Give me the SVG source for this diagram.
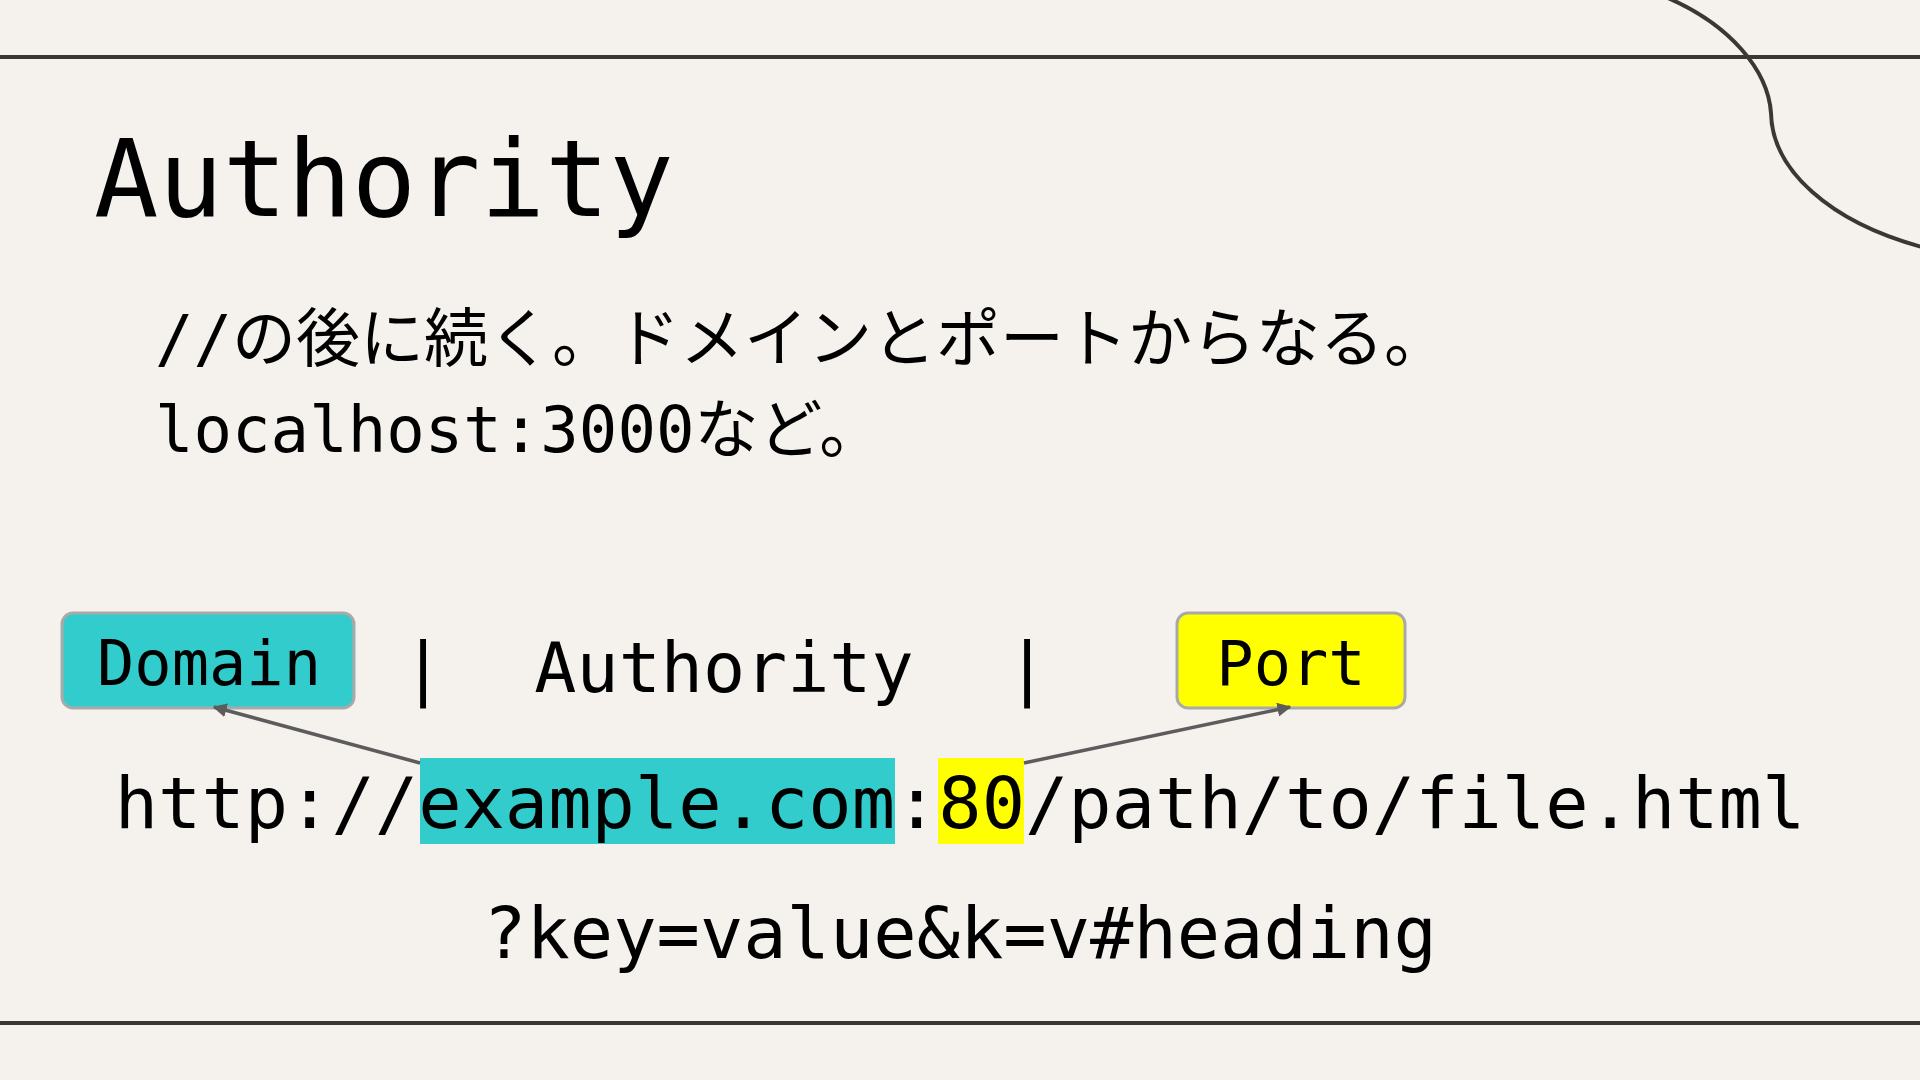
<svg xmlns="http://www.w3.org/2000/svg" width="1920" height="1080" viewBox="0 0 1920 1080">
<style>
.mono{font-family:"DejaVu Sans Mono","Noto Sans CJK JP",monospace;fill:#000}
.rule{stroke:#3b3734;stroke-width:4;fill:none}
.box{stroke:#a9a9a9;stroke-width:3}
.conn{stroke:#5c5c5c;stroke-width:3.5;fill:none;marker-end:url(#ah)}
</style>
<defs>
<marker id="ah" viewBox="0 0 10 10" refX="9" refY="5" markerWidth="4" markerHeight="4" orient="auto" markerUnits="strokeWidth">
<path d="M0,0 L10,5 L0,10 Z" fill="#5c5c5c"/>
</marker>
</defs>
<rect width="1920" height="1080" fill="#f5f2ed"/>
<g id="decor">
<line class="rule" x1="0" y1="57" x2="1920" y2="57"/>
<line class="rule" x1="0" y1="1023" x2="1920" y2="1023"/>
<path class="rule" stroke-width="3.5" d="M1668,-2 C1730,25 1768,70 1771,113 C1772,170 1830,222 1922,247"/>
</g>
<g id="title">
<text class="mono" x="94" y="216" font-size="107">Authority</text>
</g>
<g id="description">
<text class="mono" x="155" y="361" font-size="64">//の後に続く。ドメインとポートからなる。</text>
<text class="mono" x="155" y="452" font-size="64">localhost:3000など。</text>
</g>
<g id="highlights">
<rect x="420" y="758" width="475" height="86" fill="#33cccc"/>
<rect x="938" y="758" width="86" height="86" fill="#ffff00"/>
</g>
<g id="url">
<text class="mono" x="960" y="828" font-size="72" text-anchor="middle">http://example.com:80/path/to/file.html</text>
<text class="mono" x="960" y="958" font-size="72" text-anchor="middle">?key=value&amp;k=v#heading</text>
</g>
<g id="domain">
<rect class="box" x="62" y="613" width="292" height="95" rx="11" fill="#33cccc"/>
<text class="mono" x="209" y="685" font-size="62" text-anchor="middle">Domain</text>
</g>
<g id="authority-label">
<text class="mono" x="423" y="692" font-size="70" text-anchor="middle">|</text>
<text class="mono" x="724" y="692" font-size="70" text-anchor="middle">Authority</text>
<text class="mono" x="1027" y="692" font-size="70" text-anchor="middle">|</text>
</g>
<g id="port">
<rect class="box" x="1177" y="613" width="228" height="95" rx="11" fill="#ffff00"/>
<text class="mono" x="1291" y="685" font-size="62" text-anchor="middle">Port</text>
</g>
<g id="connectors">
<line class="conn" x1="420" y1="763" x2="214" y2="707"/>
<line class="conn" x1="1024" y1="763" x2="1290" y2="707"/>
</g>
</svg>
